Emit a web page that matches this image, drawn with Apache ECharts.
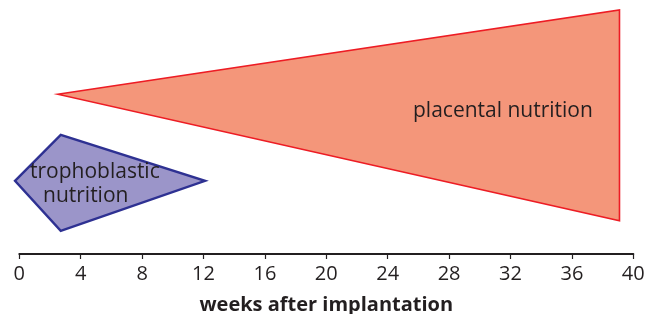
<!DOCTYPE html>
<html>
<head>
<meta charset="utf-8">
<script src="https://cdn.jsdelivr.net/npm/echarts@6/dist/echarts.min.js"></script>
<style>
  html, body { margin: 0; padding: 0; background: #fff; }
  #chart { width: 653px; height: 314px; }
</style>
</head>
<body>
<div id="chart"></div>
<script>
// x = weeks after implantation, y = relative amount (arbitrary units, 0 at the axis)
var weekTicks = [0, 4, 8, 12, 16, 20, 24, 28, 32, 36, 40]
var placentalWeeks = [2.5, 39.1, 39.1]
var placentalLevel = [65.5, 100, 13.6]
var trophoWeeks = [-0.28, 2.7, 12.1, 2.7]
var trophoLevel = [30, 48.8, 30, 9.5]

var ink = '#231f20'

function toPoints(xs, ys) {
  return xs.map(function (x, i) { return [x, ys[i]] })
}

function polygonSeries(name, pts, fill, stroke, lw) {
  return {
    name: name,
    type: 'custom',
    coordinateSystem: 'cartesian2d',
    silent: true,
    data: [0],
    renderItem: function (params, api) {
      return {
        type: 'polygon',
        shape: { points: pts.map(function (p) { return api.coord(p) }) },
        style: { fill: fill, stroke: stroke, lineWidth: lw, lineJoin: 'miter' }
      }
    }
  }
}

var chart = echarts.init(document.getElementById('chart'))
var option = {
  animation: false,
  grid: { left: 19.3, right: 19.7, top: 10, bottom: 60, outerBoundsMode: 'none', containLabel: false },
  xAxis: {
    type: 'value',
    min: 0,
    max: 40,
    interval: 4,
    name: 'weeks after implantation',
    nameLocation: 'middle',
    nameGap: 41,
    nameTextStyle: { fontFamily: 'Open Sans', fontWeight: 'bold', fontSize: 20, color: ink },
    axisLine: { lineStyle: { color: ink, width: 2 } },
    axisTick: { length: 5, lineStyle: { color: ink, width: 1.2 } },
    axisLabel: {
      margin: 10,
      fontFamily: 'Open Sans',
      fontSize: 20,
      color: ink,
      formatter: function (v) { return weekTicks.indexOf(v) >= 0 ? String(v) : '' }
    },
    splitLine: { show: false }
  },
  yAxis: {
    type: 'value',
    min: 0,
    max: 100,
    show: false,
    splitLine: { show: false }
  },
  series: [
    polygonSeries('placental nutrition', toPoints(placentalWeeks, placentalLevel), '#f4967a', '#ed1c24', 1.6),
    polygonSeries('trophoblastic nutrition', toPoints(trophoWeeks, trophoLevel), '#9b95c9', '#2e3192', 2.4)
  ],
  graphic: [
    { type: 'text', left: 413, top: 101, z: 100, silent: true,
      style: { text: 'placental nutrition', font: '21px "Open Sans"', fill: ink } },
    { type: 'text', left: 30, top: 162, z: 100, silent: true,
      style: { text: 'trophoblastic', font: '21px "Open Sans"', fill: ink } },
    { type: 'text', left: 43, top: 186, z: 100, silent: true,
      style: { text: 'nutrition', font: '21px "Open Sans"', fill: ink } }
  ]
}
chart.setOption(option)
</script>
</body>
</html>
